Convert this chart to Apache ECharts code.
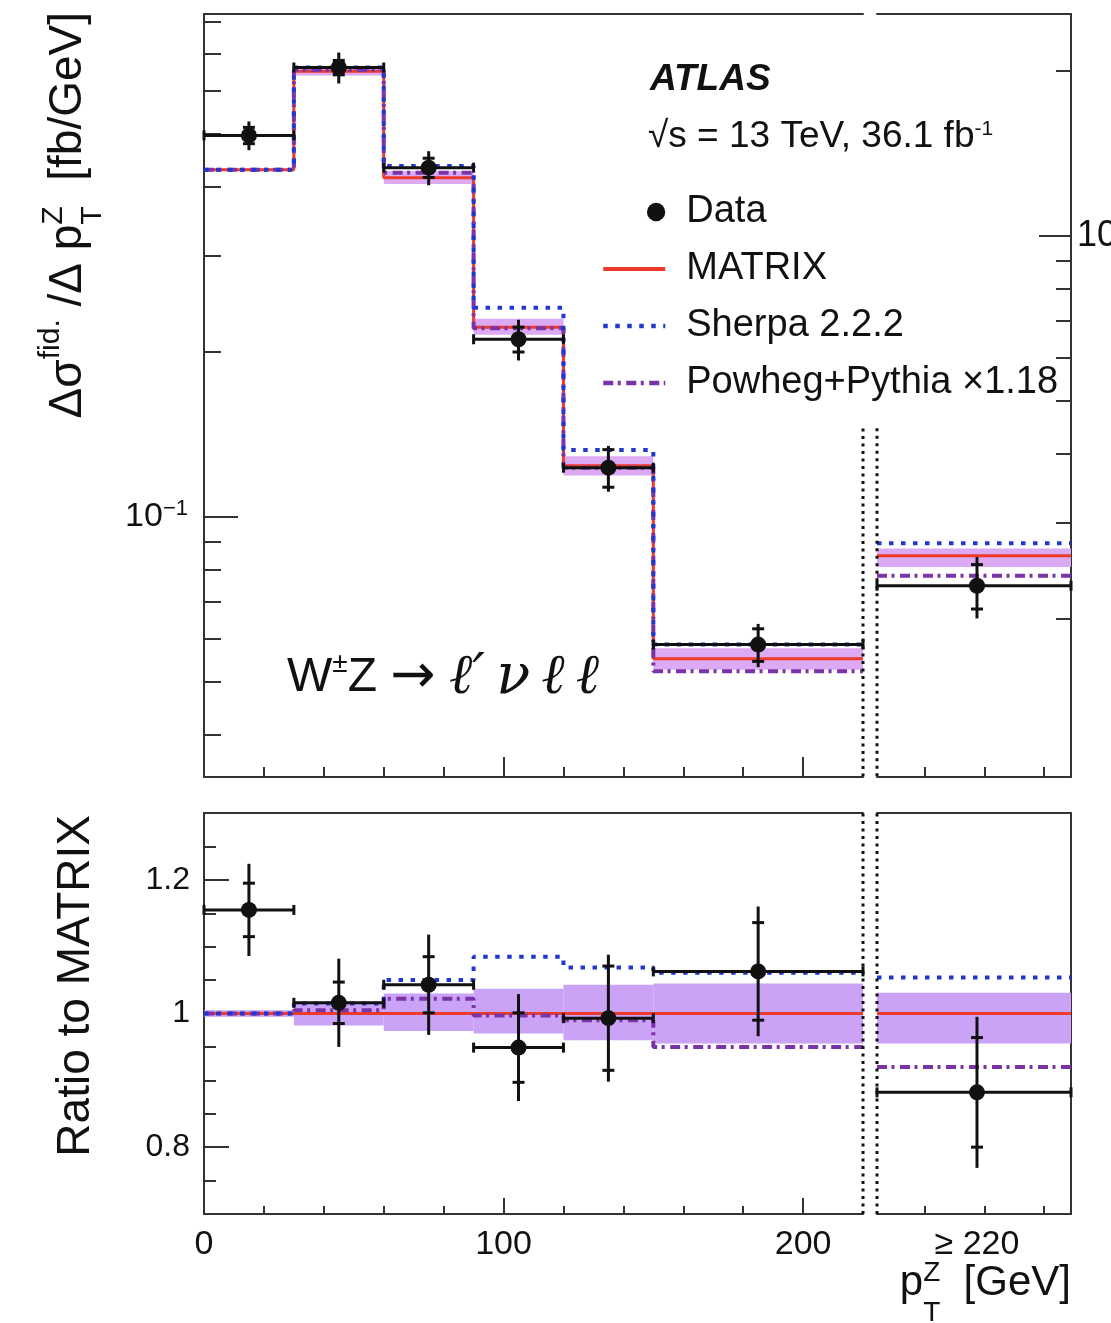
<!DOCTYPE html>
<html><head><meta charset="utf-8">
<script src="https://cdn.jsdelivr.net/npm/echarts@6/dist/echarts.min.js"></script>
<style>html,body{margin:0;padding:0;background:#fff}#c{width:1111px;height:1323px}</style>
</head><body><div id="c"></div>
<script>
// ---------------- data ----------------
const binEdges = [0, 30, 60, 90, 120, 150, 220];
const binCenters = [15, 45, 75, 105, 135, 185];
const overflowEdges = [224, 289];
const overflowCenter = [257.5];
const overflowLabel = '≥ 220';
const xTickLabels = [0, 100, 200];
const xMinorTicks = [20, 40, 60, 80, 120, 140, 160, 180];
const xMajorTicks = [100, 200];
const overflowTicks = [240, 260, 280];

// top panel, fb/GeV (left log axis)
const dataXsec     = [0.497, 0.661, 0.434, 0.211, 0.123, 0.0585];
const dataTotErr   = [0.030, 0.043, 0.031, 0.018, 0.0118, 0.0053];
const dataStatErr  = [0.017, 0.020, 0.0175, 0.011, 0.0097, 0.0040];
const matrixXsec   = [0.430, 0.651, 0.416, 0.222, 0.124, 0.0551];
const matrixBandLo = [0.428, 0.639, 0.405, 0.215, 0.119, 0.0526];
const matrixBandHi = [0.432, 0.662, 0.428, 0.230, 0.129, 0.0576];
const sherpaXsec   = [0.430, 0.661, 0.437, 0.241, 0.1325, 0.0585];
const powhegXsec   = [0.430, 0.654, 0.425, 0.221, 0.123, 0.0523];

// top panel overflow bin, fb (right log axis)
const dataOverflow         = [2.30];
const dataOverflowTotErr   = [0.295];
const dataOverflowStatErr  = [0.214];
const matrixOverflow       = [2.61];
const matrixOverflowBandLo = [2.49];
const matrixOverflowBandHi = [2.69];
const sherpaOverflow       = [2.75];
const powhegOverflow       = [2.40];

// ratio panel (last entry = overflow bin)
const ratioData    = [1.155, 1.016, 1.043, 0.949, 0.993, 1.063, 0.882];
const ratioTotErr  = [0.069, 0.066, 0.075, 0.080, 0.095, 0.097, 0.113];
const ratioStatErr = [0.040, 0.031, 0.042, 0.052, 0.078, 0.073, 0.082];
const ratioMatrix  = [1, 1, 1, 1, 1, 1, 1];
const ratioBandLo  = [0.995, 0.982, 0.974, 0.970, 0.960, 0.955, 0.955];
const ratioBandHi  = [1.005, 1.017, 1.030, 1.037, 1.043, 1.045, 1.031];
const ratioSherpa  = [1.0, 1.015, 1.05, 1.085, 1.069, 1.061, 1.054];
const ratioPowheg  = [1.0, 1.005, 1.022, 0.997, 0.99, 0.95, 0.92];

// axis tick values
const yTopMinorTicks = [0.04, 0.05, 0.06, 0.07, 0.08, 0.09, 0.2, 0.3, 0.4, 0.5, 0.6, 0.7, 0.8];
const yTopMajorTicks = [0.1];
const yRightMinorTicks = [2, 3, 4, 5, 6, 7, 8, 9, 20];
const yRightMajorTicks = [10];
const yRatioMinorTicks = [0.75, 0.85, 0.9, 0.95, 1.05, 1.1, 1.15, 1.25];
const yRatioMajorTicks = [0.8, 1, 1.2];

// axis ranges
const yTopRange = [0.03353, 0.8277];
const yRightRange = [1.0298, 25.42];
const yRatioRange = [0.7, 1.3];

// ---------------- style ----------------
const FONT = '"Liberation Sans", Arial, Helvetica, sans-serif';
const C_FRAME = '#333', C_BLACK = '#111';
const C_RED = '#ee3a2a', C_BLUE = '#2038d0', C_PURPLE = '#7a34a8';
const C_BAND_TOP = '#dcaaf3', C_BAND_RATIO = '#caa2f6';
const DASH_SHERPA = [4.5, 7.5], DASH_POWHEG = [10, 4.5, 3, 5.5];

function stepData(edges, vals) {
  const d = vals.map((v, i) => [edges[i], v]);
  d.push([edges[edges.length - 1], vals[vals.length - 1]]);
  return d;
}
function bandRows(edges, lo, hi) { return lo.map((l, i) => [edges[i], edges[i + 1], l, hi[i]]); }
function dataRows(edges, centers, vals, tot, stat) {
  return vals.map((v, i) => [edges[i], edges[i + 1], centers[i], v, tot[i], stat[i]]);
}
function makeRenderBand(color) {
  return function (params, api) {
    const a = api.coord([api.value(0), api.value(3)]);
    const b = api.coord([api.value(1), api.value(2)]);
    return { type: 'rect', shape: { x: a[0], y: a[1], width: b[0] - a[0], height: b[1] - a[1] }, style: { fill: color } };
  };
}
function renderData(params, api) {
  const lo = api.value(0), hi = api.value(1), c = api.value(2), v = api.value(3), tot = api.value(4), st = api.value(5);
  const pL = api.coord([lo, v]), pH = api.coord([hi, v]), p = api.coord([c, v]);
  const tT = api.coord([c, v + tot]), tB = api.coord([c, v - tot]);
  const sT = api.coord([c, v + st]), sB = api.coord([c, v - st]);
  const L = (x1, y1, x2, y2) => ({ type: 'line', shape: { x1, y1, x2, y2 }, style: { stroke: C_BLACK, lineWidth: 3 } });
  return { type: 'group', children: [
    L(pL[0], pL[1], pH[0], pH[1]),
    L(pL[0], pL[1] - 5, pL[0], pL[1] + 5),
    L(pH[0], pH[1] - 5, pH[0], pH[1] + 5),
    L(tT[0], tT[1], tB[0], tB[1]),
    L(sT[0] - 6, sT[1], sT[0] + 6, sT[1]),
    L(sB[0] - 6, sB[1], sB[0] + 6, sB[1]),
    { type: 'circle', shape: { cx: p[0], cy: p[1], r: 8 }, style: { fill: C_BLACK } }
  ] };
}
function panelSeries(xi, yi, bandColor, edges, centers, bandLo, bandHi, matrix, sherpa, powheg, data, tot, stat) {
  const base = { xAxisIndex: xi, yAxisIndex: yi, silent: true, animation: false };
  return [
    Object.assign({ type: 'custom', name: 'MATRIX unc.', renderItem: makeRenderBand(bandColor), data: bandRows(edges, bandLo, bandHi),
      encode: { x: [0, 1], y: [2, 3] }, z: 1 }, base),
    Object.assign({ type: 'line', name: 'MATRIX', step: 'end', data: stepData(edges, matrix), symbol: 'none',
      lineStyle: { color: C_RED, width: 3 }, itemStyle: { color: C_RED }, z: 3 }, base),
    Object.assign({ type: 'line', name: 'Powheg+Pythia ×1.18', step: 'end', data: stepData(edges, powheg), symbol: 'none',
      lineStyle: { color: C_PURPLE, width: 4, type: DASH_POWHEG }, itemStyle: { color: C_PURPLE }, z: 4 }, base),
    Object.assign({ type: 'line', name: 'Sherpa 2.2.2', step: 'end', data: stepData(edges, sherpa), symbol: 'none',
      lineStyle: { color: C_BLUE, width: 4, type: DASH_SHERPA }, itemStyle: { color: C_BLUE }, z: 4 }, base),
    Object.assign({ type: 'custom', name: 'Data', renderItem: renderData, data: dataRows(edges, centers, data, tot, stat),
      encode: { x: [0, 1, 2], y: [3] }, itemStyle: { color: C_BLACK }, z: 5 }, base)
  ];
}
function sepSeries(xi, yi, x, y0, y1) {
  return { type: 'line', name: 'sep', xAxisIndex: xi, yAxisIndex: yi, data: [[x, y0], [x, y1]], symbol: 'none',
    clip: false, silent: true, animation: false, lineStyle: { color: C_BLACK, width: 3, type: [3, 4.5] }, z: 6 };
}

// ---------------- axes ----------------
const frameLine = { show: true, onZero: false, lineStyle: { color: C_FRAME, width: 2 } };
const noLine = { show: false, onZero: false };
function ticks(len, values) { return { show: true, inside: true, length: len, customValues: values, lineStyle: { color: C_FRAME, width: 2 } }; }
function ax(type, grid, range, pos, o) {
  return Object.assign({ type, gridIndex: grid, min: range[0], max: range[1], position: pos,
    splitLine: { show: false }, axisLine: noLine, axisTick: { show: false }, axisLabel: { show: false } }, o);
}
const lblBase = { show: true, fontFamily: FONT, color: C_BLACK };

const xAxes = [
  ax('value', 0, [0, 220], 'bottom', { axisLine: frameLine, axisTick: ticks(10, xMinorTicks) }),
  ax('value', 0, [0, 220], 'bottom', { axisTick: ticks(20, xMajorTicks) }),
  ax('value', 0, [0, 220], 'top', { axisLine: frameLine }),
  ax('value', 1, overflowEdges, 'bottom', { axisLine: frameLine, axisTick: ticks(10, overflowTicks) }),
  ax('value', 1, overflowEdges, 'top', { axisLine: frameLine }),
  ax('value', 2, [0, 220], 'bottom', { axisLine: frameLine, axisTick: ticks(8, xMinorTicks) }),
  ax('value', 2, [0, 220], 'bottom', { axisTick: ticks(16, xMajorTicks),
    axisLabel: Object.assign({}, lblBase, { customValues: xTickLabels, margin: 14, fontSize: 34, formatter: v => String(v) }) }),
  ax('value', 2, [0, 220], 'top', { axisLine: frameLine }),
  ax('value', 3, overflowEdges, 'bottom', { axisLine: frameLine, axisTick: ticks(8, overflowTicks),
    axisLabel: Object.assign({}, lblBase, { customValues: overflowCenter, margin: 14, fontSize: 34, formatter: () => overflowLabel }) }),
  ax('value', 3, overflowEdges, 'top', { axisLine: frameLine })
];
const yAxes = [
  ax('log', 0, yTopRange, 'left', { logBase: 10, axisLine: frameLine, axisTick: ticks(17, yTopMinorTicks) }),
  ax('log', 0, yTopRange, 'left', { logBase: 10, axisTick: ticks(34, yTopMajorTicks),
    axisLabel: Object.assign({}, lblBase, { customValues: yTopMajorTicks, margin: 16, fontSize: 34,
      formatter: () => '10{s|−1}', rich: { s: { fontSize: 22, fontFamily: FONT, color: C_BLACK, verticalAlign: 'top', padding: [0, 0, 16, 0] } } }) }),
  ax('log', 1, yRightRange, 'right', { logBase: 10, axisLine: frameLine, axisTick: ticks(15, yRightMinorTicks) }),
  ax('log', 1, yRightRange, 'right', { logBase: 10, axisTick: ticks(32, yRightMajorTicks),
    axisLabel: Object.assign({}, lblBase, { customValues: yRightMajorTicks, margin: 6, fontSize: 36, formatter: v => String(v) }) }),
  ax('value', 2, yRatioRange, 'left', { axisLine: frameLine, axisTick: ticks(12, yRatioMinorTicks) }),
  ax('value', 2, yRatioRange, 'left', { axisTick: ticks(25, yRatioMajorTicks),
    axisLabel: Object.assign({}, lblBase, { customValues: yRatioMajorTicks, margin: 14, fontSize: 32,
      formatter: v => (Math.abs(v - 1) < 1e-9 ? '1' : String(v)) }) }),
  ax('value', 3, yRatioRange, 'right', { axisLine: frameLine })
];

// ---------------- series ----------------
const series = [].concat(
  panelSeries(0, 0, C_BAND_TOP, binEdges, binCenters, matrixBandLo, matrixBandHi, matrixXsec, sherpaXsec, powhegXsec, dataXsec, dataTotErr, dataStatErr),
  panelSeries(3, 2, C_BAND_TOP, overflowEdges, overflowCenter, matrixOverflowBandLo, matrixOverflowBandHi, matrixOverflow, sherpaOverflow, powhegOverflow, dataOverflow, dataOverflowTotErr, dataOverflowStatErr),
  panelSeries(5, 4, C_BAND_RATIO, binEdges, binCenters, ratioBandLo.slice(0, 6), ratioBandHi.slice(0, 6), ratioMatrix.slice(0, 6), ratioSherpa.slice(0, 6), ratioPowheg.slice(0, 6), ratioData.slice(0, 6), ratioTotErr.slice(0, 6), ratioStatErr.slice(0, 6)),
  panelSeries(8, 6, C_BAND_RATIO, overflowEdges, overflowCenter, ratioBandLo.slice(6), ratioBandHi.slice(6), ratioMatrix.slice(6), ratioSherpa.slice(6), ratioPowheg.slice(6), ratioData.slice(6), ratioTotErr.slice(6), ratioStatErr.slice(6)),
  [ sepSeries(0, 0, 220, 0.145, yTopRange[0]), sepSeries(3, 2, 224, 4.46, yRightRange[0]),
    sepSeries(5, 4, 220, yRatioRange[0], yRatioRange[1]), sepSeries(8, 6, 224, yRatioRange[0], yRatioRange[1]) ]
);

// ---------------- titles (multi-part text) ----------------
const mctx = document.createElement('canvas').getContext('2d');
function tw(t, s, st) { mctx.font = (st || '') + ' ' + s + 'px ' + FONT; return mctx.measureText(t).width; }
function titleGroup(pieces, x, y, rotation, alignRight) {
  let cx = 0, pend = 0; const ch = [];
  pieces.forEach(p => {
    const w = tw(p.t, p.s, p.st);
    ch.push({ type: 'text', x: cx, y: p.dy || 0, style: { text: p.t, fontSize: p.s, fontFamily: FONT, fontStyle: p.st || 'normal',
      fill: C_BLACK, align: 'left', verticalAlign: 'middle' } });
    if (p.stack) pend = w; else { cx += Math.max(w, pend); pend = 0; }
  });
  if (alignRight) ch.forEach(c => { c.x -= cx; });
  return { type: 'group', x, y, rotation, children: ch, silent: true };
}
const yTitleTop = titleGroup([
  { t: 'Δσ', s: 46 }, { t: 'fid.', s: 30, dy: -17 }, { t: ' /', s: 46 }, { t: 'Δ', s: 46 }, { t: ' p', s: 46 },
  { t: 'Z', s: 30, dy: -14, stack: true }, { t: 'T', s: 30, dy: 25 }, { t: '  [fb/GeV]', s: 46 }
], 68, 12, Math.PI / 2, true);
const yTitleRatio = titleGroup([{ t: 'Ratio to MATRIX', s: 46 }], 76, 815, Math.PI / 2, true);
const xTitle = titleGroup([
  { t: 'p', s: 42 }, { t: 'Z', s: 28, dy: -10, stack: true }, { t: 'T', s: 28, dy: 30 }, { t: '  [GeV]', s: 42 }
], 1071, 1283, 0, true);

const dataIcon = 'path://M0,10 M43,10 A9,9 0 1 1 61,10 A9,9 0 1 1 43,10 Z';
const hideSym = { opacity: 0 };

const option = {
  animation: false,
  backgroundColor: '#fff',
  grid: [
    { left: 204, top: 14, width: 659, height: 763, outerBoundsMode: 'none' },
    { left: 877, top: 14, width: 194, height: 763, outerBoundsMode: 'none' },
    { left: 204, top: 813, width: 659, height: 401, outerBoundsMode: 'none' },
    { left: 877, top: 813, width: 194, height: 401, outerBoundsMode: 'none' }
  ],
  xAxis: xAxes,
  yAxis: yAxes,
  legend: {
    orient: 'vertical', left: 601, top: 193, itemWidth: 62, itemHeight: 20, itemGap: 19, padding: 0,
    selectedMode: false,
    textStyle: { fontSize: 38, fontFamily: FONT, color: C_BLACK, padding: [0, 0, 0, 16] },
    data: [
      { name: 'Data', icon: dataIcon, itemStyle: { color: C_BLACK } },
      { name: 'MATRIX', itemStyle: hideSym, lineStyle: { width: 4, color: C_RED } },
      { name: 'Sherpa 2.2.2', itemStyle: hideSym, lineStyle: { width: 4.5, color: C_BLUE, type: DASH_SHERPA } },
      { name: 'Powheg+Pythia ×1.18', itemStyle: hideSym, lineStyle: { width: 4.5, color: C_PURPLE, type: DASH_POWHEG } }
    ]
  },
  graphic: [
    { type: 'text', x: 650, y: 80, silent: true, style: { text: 'ATLAS', fontSize: 37, fontStyle: 'italic', fontWeight: 'bold', fontFamily: FONT, fill: C_BLACK, verticalAlign: 'middle' } },
    { type: 'text', x: 648, y: 137, silent: true, style: { text: '√s = 13 TeV, 36.1 fb{s|-1}', fontSize: 37, fontFamily: FONT, fill: C_BLACK, verticalAlign: 'middle',
      rich: { s: { fontSize: 21, fontFamily: FONT, fill: C_BLACK, verticalAlign: 'top', padding: [0, 0, 16, 0] } } } },
    { type: 'text', x: 287, y: 678, silent: true, style: { text: 'W{s|±}Z {a|→} {i|ℓ′\u2009ν\u2009ℓ\u2009ℓ}', fontSize: 48, fontFamily: FONT, fill: C_BLACK, verticalAlign: 'middle',
      rich: { s: { fontSize: 28, fontFamily: FONT, fill: C_BLACK, verticalAlign: 'top', padding: [0, 0, 20, 0] },
              a: { fontSize: 54, fontFamily: '"DejaVu Sans", sans-serif', fill: C_BLACK },
              i: { fontSize: 56, fontStyle: 'italic', fontFamily: '"DejaVu Serif", serif', fill: C_BLACK } } } },
    yTitleTop, yTitleRatio, xTitle
  ],
  series
};
const chart = echarts.init(document.getElementById('c'), null, { renderer: 'canvas', width: 1111, height: 1323 });
chart.setOption(option);
</script>
</body></html>
